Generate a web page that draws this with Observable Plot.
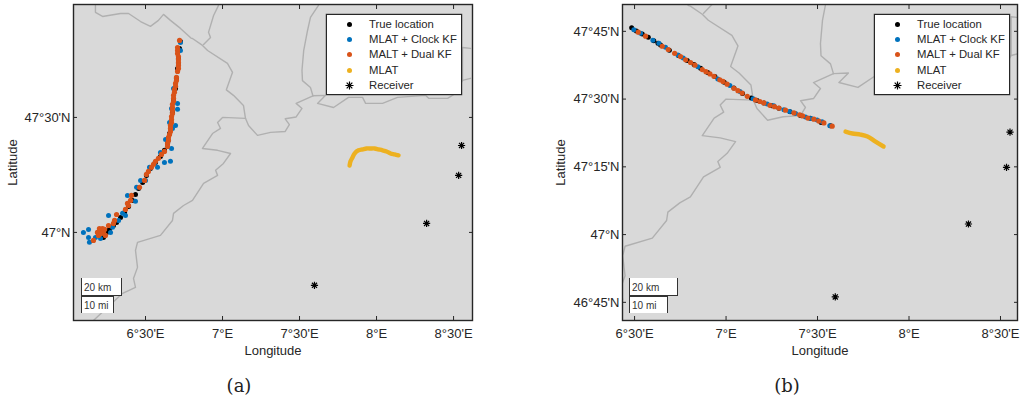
<!DOCTYPE html>
<html><head><meta charset="utf-8">
<script src="https://cdn.jsdelivr.net/npm/d3@7"></script>
<script src="https://cdn.jsdelivr.net/npm/@observablehq/plot@0.6"></script>
<style>
html,body{margin:0;padding:0;background:#fff;}
#wrap{position:relative;width:1021px;height:402px;overflow:hidden;font-family:"Liberation Sans",sans-serif;color:#262626;}
#wrap>svg{position:absolute;top:0;}
.legend{position:absolute;top:14px;width:134px;height:79px;background:#fff;border:1px solid #262626;box-shadow:0 0 0 .3px #555;font-size:11.3px;}
.legend .row{position:absolute;left:0;right:0;height:15px;line-height:15px;white-space:nowrap;}
.legend .mk{position:absolute;left:20px;top:5px;width:5px;height:5px;border-radius:50%;}
.legend svg.ast{position:absolute;left:17px;top:2px;width:11px;height:11px;}
.legend .tx{position:absolute;left:42px;}
.scale{position:absolute;background:#fff;box-sizing:border-box;border-left:1px solid #333;border-right:1px solid #333;font-size:10px;line-height:16px;padding-left:2px;color:#333;}
.cap{position:absolute;top:375px;font-family:"DejaVu Serif",serif;font-size:18px;color:#222;transform:translateX(-50%);}
</style></head><body><div id="wrap"></div>
<script>
// Borders (degrees), shared by both panels
const borderNorthLon=[6.175,6.175,6.221,6.338,6.390,6.468,6.532,6.584,6.617,6.662,6.727,6.795,6.805,6.870,6.903,7.032,7.065,7.025,7.071,7.136,7.149];
const borderNorthLat=[47.987,47.957,47.939,47.952,47.952,47.917,47.896,47.922,47.948,47.922,47.887,47.845,47.843,47.813,47.791,47.735,47.696,47.620,47.596,47.552,47.496];
const borderBranchLon=[6.974,6.942,6.909,6.922,6.877];
const borderBranchLat=[47.987,47.943,47.870,47.848,47.817];
const borderSouthLon=[7.149,7.0,6.968,6.987,6.935,6.870,6.968,7.052,7.006,6.955,6.968,6.877,6.805,6.747,6.682,6.675,6.597,6.448,6.435,6.448,6.422,6.435,6.351,6.162];
const borderSouthLat=[47.496,47.5,47.478,47.452,47.430,47.365,47.357,47.343,47.3,47.27,47.248,47.213,47.139,47.117,47.083,47.052,46.987,46.957,46.922,46.848,46.8,46.761,46.735,46.617];
const borderMidLon=[7.149,7.169,7.227,7.312,7.407,7.434,7.407,7.478,7.516,7.478,7.587];
const borderMidLat=[47.496,47.465,47.422,47.435,47.439,47.469,47.494,47.502,47.539,47.561,47.594];
const borderUpLon=[7.623,7.571,7.552,7.527,7.516,7.519,7.571,7.587];
const borderUpLat=[47.987,47.935,47.878,47.79,47.705,47.660,47.630,47.594];
const borderEastLon=[7.587,7.669,7.617,7.721,7.818,7.909,7.929,8.039,8.136,8.318,8.338,8.461,8.513,8.558,8.61];
const borderEastLat=[47.594,47.596,47.561,47.543,47.587,47.587,47.561,47.561,47.587,47.596,47.583,47.583,47.604,47.661,47.67];
const borderFarLon=[8.558,8.558,8.61];
const borderFarLat=[47.661,47.804,47.80];
const borders=[[borderNorthLon,borderNorthLat],[borderBranchLon,borderBranchLat],[borderSouthLon,borderSouthLat],[borderMidLon,borderMidLat],[borderUpLon,borderUpLat],[borderEastLon,borderEastLat],[borderFarLon,borderFarLat]];

// Receivers
const recvLon=[8.552,8.533,8.325,7.597];
const recvLat=[47.378,47.248,47.039,46.770];

// Panel (a)
const aTrueLon=[6.227,6.247,6.266,6.292,6.312,6.338,6.364,6.390,6.416,6.435,6.455,6.481,6.506,6.532,6.565,6.597,6.623,6.643,6.656,6.662,6.675,6.682,6.695,6.701,6.708,6.714,6.721,6.727];
const aTrueLat=[46.978,47.0,47.013,47.030,47.043,47.065,47.087,47.113,47.139,47.165,47.191,47.217,47.248,47.278,47.304,47.330,47.357,47.387,47.430,47.474,47.522,47.574,47.626,47.670,47.713,47.757,47.800,47.830];
const aClockLon=[6.097,6.130,6.130,6.136,6.175,6.260,6.383,6.435,6.273,6.325,6.286,6.351,6.442,6.5,6.708,6.695,6.669,6.662,6.623,6.630,6.708,6.727,6.669,6.656,6.558,6.526,6.597,6.649,6.682,6.714,6.727,6.675,6.578,6.208,6.370,6.468];
const aClockLat=[47.0,47.013,46.978,46.957,46.978,47.074,47.161,47.135,47.0,47.052,47.022,47.083,47.196,47.226,47.535,47.465,47.365,47.309,47.304,47.404,47.561,47.791,47.539,47.478,47.300,47.283,47.348,47.400,47.626,47.735,47.826,47.452,47.283,46.974,47.074,47.226];
const aDualLon=[6.721,6.708,6.708,6.708,6.714,6.714,6.714,6.714,6.714,6.708,6.701,6.701,6.695,6.695,6.688,6.688,6.682,6.682,6.682,6.675,6.675,6.675,6.675,6.669,6.669,6.669,6.662,6.662,6.662,6.656,6.649,6.649,6.643,6.643,6.623,6.604,6.584,6.565,6.552,6.539,6.519,6.506,6.494,6.461,6.409,6.403,6.390,6.370,6.383,6.312,6.299,6.292,6.260,6.221,6.188,6.208,6.227,6.195,6.240,6.214,6.162,6.201,6.234];
const aDualLat=[47.835,47.804,47.791,47.778,47.765,47.752,47.739,47.726,47.713,47.700,47.674,47.661,47.648,47.635,47.622,47.609,47.596,47.583,47.570,47.557,47.543,47.530,47.517,47.504,47.491,47.478,47.465,47.452,47.439,47.426,47.413,47.400,47.387,47.374,47.352,47.339,47.322,47.309,47.296,47.283,47.265,47.252,47.226,47.196,47.161,47.139,47.117,47.100,47.126,47.078,47.052,47.039,47.030,47.017,47.0,47.009,47.0,46.987,46.987,46.996,46.965,47.017,47.013];
const aMlatLon=[7.825,7.831,7.844,7.857,7.883,7.909,7.935,7.961,7.987,8.013,8.039,8.065,8.091,8.117,8.143];
const aMlatLat=[47.291,47.309,47.326,47.343,47.357,47.361,47.365,47.365,47.365,47.361,47.357,47.352,47.343,47.339,47.335];

// Panel (b)
const bTrueLon=[6.484,6.510,6.542,6.575,6.605,6.628,6.642,6.690,6.740,6.788,6.825,6.861,6.900,6.939,6.990,7.043,7.090,7.138,7.170,7.207,7.250,7.289,7.350,7.407,7.460,7.520,7.571];
const bTrueLat=[47.763,47.751,47.740,47.728,47.715,47.706,47.700,47.680,47.661,47.642,47.628,47.614,47.598,47.583,47.562,47.541,47.521,47.504,47.495,47.486,47.475,47.466,47.453,47.439,47.429,47.414,47.402];
const bClockLon=[6.496,6.533,6.600,6.633,6.669,6.737,6.766,6.846,6.955,7.021,7.076,7.148,7.225,7.261,7.316,7.347,7.380,7.434,7.465,7.498,7.525,7.567];
const bClockLat=[47.756,47.743,47.717,47.706,47.691,47.663,47.652,47.619,47.574,47.550,47.528,47.501,47.482,47.475,47.461,47.454,47.447,47.434,47.428,47.423,47.416,47.402];
const bDualLon=[6.520,6.560,6.651,6.684,6.719,6.751,6.779,6.806,6.830,6.870,6.890,6.912,6.934,6.966,6.983,7.006,7.043,7.065,7.088,7.116,7.161,7.185,7.207,7.240,7.265,7.289,7.325,7.371,7.402,7.418,7.447,7.480,7.507,7.535,7.580];
const bDualLat=[47.747,47.732,47.695,47.683,47.669,47.657,47.645,47.635,47.625,47.609,47.601,47.593,47.584,47.571,47.565,47.555,47.540,47.531,47.522,47.510,47.497,47.491,47.486,47.477,47.472,47.467,47.459,47.449,47.442,47.438,47.430,47.426,47.419,47.412,47.400];
const bMlatLon=[7.653,7.691,7.735,7.773,7.817,7.861];
const bMlatLat=[47.380,47.373,47.369,47.362,47.343,47.325];

// Legend and ticks
const seriesNames=["True location","MLAT + Clock KF","MALT + Dual KF","MLAT","Receiver"];
const seriesColors=["#000000","#0072bd","#d95319","#edb120","#000000"];
const scaleLabels=["20 km","10 mi"];
const aLonTicks=[6.5,7,7.5,8,8.5], aLatTicks=[47,47.5];
const bLonTicks=[6.5,7,7.5,8,8.5], bLatTicks=[46.75,47,47.25,47.5,47.75];

const pts=(lon,lat)=>lon.map((x,i)=>({x,y:lat[i]}));
const dm=(v,h)=>{const d=Math.floor(v+1e-9),m=Math.round((v-d)*60);return d+"°"+(m?m+"'":"")+h;};
const ink="#262626";
// eight-spoke star like the reference's receiver marker
const star={draw(c,s){const r=Math.sqrt(s/Math.PI);for(let i=0;i<4;i++){const a=i*Math.PI/4,dx=r*Math.cos(a),dy=r*Math.sin(a);c.moveTo(-dx,-dy);c.lineTo(dx,dy);}}};

function panel(o){
  const dotR=o.r;
  return Plot.plot({
    width:o.w,height:402,marginLeft:o.ml,marginRight:o.mr,marginTop:4,marginBottom:82,
    style:{fontFamily:'"Liberation Sans",sans-serif',fontSize:"13px",color:ink,background:"transparent"},
    x:{domain:o.xd,label:null},y:{domain:o.yd,label:null},
    marks:[
      Plot.frame({fill:"#d9d9d9",stroke:null}),
      ...borders.map(([a,b])=>Plot.line(pts(a,b),{x:"x",y:"y",stroke:"#b0b0b0",strokeWidth:1.4,clip:true})),
      Plot.dot(pts(o.tLon,o.tLat),{x:"x",y:"y",r:dotR,fill:seriesColors[0],clip:true}),
      Plot.dot(pts(o.cLon,o.cLat),{x:"x",y:"y",r:dotR,fill:seriesColors[1],clip:true}),
      Plot.dot(pts(o.dLon,o.dLat),{x:"x",y:"y",r:dotR+.1,fill:seriesColors[2],clip:true}),
      Plot.line(pts(o.mLon,o.mLat),{x:"x",y:"y",stroke:seriesColors[3],strokeWidth:4.4,strokeLinecap:"round",curve:"catmull-rom",clip:true}),
      Plot.dot(pts(recvLon,recvLat),{x:"x",y:"y",symbol:star,r:3.6,stroke:"#000",strokeWidth:1.2}),
      Plot.axisX({anchor:"bottom",ticks:o.xt,tickSize:-4,tickPadding:12,tickFormat:v=>dm(v,"E"),label:"Longitude",labelAnchor:"center",labelArrow:"none",labelOffset:34,stroke:ink,fontSize:13}),
      Plot.axisX({anchor:"top",ticks:o.xt,tickSize:-4,tickFormat:()=>"",label:null,stroke:ink}),
      Plot.axisY({anchor:"left",ticks:o.yt,tickSize:-4,tickPadding:7,tickFormat:v=>dm(v,"N"),label:"Latitude",labelAnchor:"center",labelArrow:"none",labelOffset:o.lo,stroke:ink,fontSize:13}),
      Plot.axisY({anchor:"right",ticks:o.yt,tickSize:-4,tickFormat:()=>"",label:null,stroke:ink}),
      Plot.frame({stroke:ink,strokeWidth:1.4})
    ]
  });
}

const wrap=document.getElementById("wrap");
const A=panel({w:500,ml:73,mr:28,xd:[6.0325,8.623],yd:[46.617,47.991],xt:aLonTicks,yt:aLatTicks,r:2.5,lo:66,
  tLon:aTrueLon,tLat:aTrueLat,cLon:aClockLon,cLat:aClockLat,dLon:aDualLon,dLat:aDualLat,mLon:aMlatLon,mLat:aMlatLat});
A.style.left="0px";wrap.appendChild(A);
const B=panel({w:521,ml:122,mr:4,xd:[6.434,8.593],yd:[46.683,47.849],xt:bLonTicks,yt:bLatTicks,r:2.5,lo:67,
  tLon:bTrueLon,tLat:bTrueLat,cLon:bClockLon,cLat:bClockLat,dLon:bDualLon,dLat:bDualLat,mLon:bMlatLon,mLat:bMlatLat});
B.style.left="500px";wrap.appendChild(B);

function legend(left){
  const L=document.createElement("div");L.className="legend";L.style.left=left+"px";
  seriesNames.forEach((n,i)=>{
    const r=document.createElement("div");r.className="row";r.style.top=(2+i*15.2)+"px";
    let m;
    if(i===4){
      m=document.createElementNS("http://www.w3.org/2000/svg","svg");m.setAttribute("class","ast");m.setAttribute("viewBox","-5.5 -5.5 11 11");
      const p=document.createElementNS("http://www.w3.org/2000/svg","path");
      const path=d3.path();star.draw(path,Math.PI*16);p.setAttribute("d",path.toString());p.setAttribute("stroke","#000");p.setAttribute("stroke-width","1.2");
      m.appendChild(p);
    }else{m=document.createElement("span");m.className="mk";m.style.background=seriesColors[i];}
    const t=document.createElement("span");t.className="tx";t.textContent=n;
    r.append(m,t);L.appendChild(r);
  });
  wrap.appendChild(L);
}
legend(326);legend(874);

function scale(left,w1,w2){
  const a=document.createElement("div");a.className="scale";a.textContent=scaleLabels[0];
  a.style.cssText=`left:${left}px;top:278px;width:${w1}px;height:18px;border-bottom:1px solid #333;line-height:19px;`;
  const b=document.createElement("div");b.className="scale";b.textContent=scaleLabels[1];
  b.style.cssText=`left:${left}px;top:296px;width:${w2}px;height:17px;border-top:1px solid #333;line-height:17px;`;
  wrap.append(a,b);
}
scale(81,41,33);scale(629,49,39);

[["(a)",239],["(b)",787]].forEach(([s,x])=>{
  const c=document.createElement("div");c.className="cap";c.textContent=s;c.style.left=x+"px";wrap.appendChild(c);
});
</script></body></html>
